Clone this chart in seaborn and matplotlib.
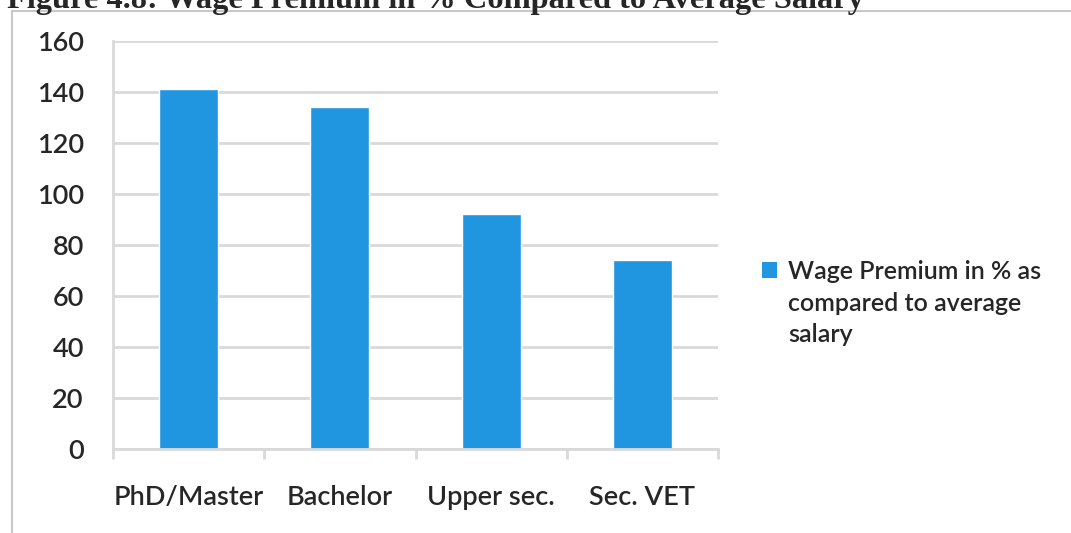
import matplotlib
matplotlib.use("Agg")
import matplotlib.pyplot as plt
import seaborn as sns
import pandas as pd
from matplotlib.patches import Rectangle, Patch
from matplotlib.legend_handler import HandlerPatch

# data
categories = ["PhD/Master", "Bachelor", "Upper sec.", "Sec. VET"]
premium = [141, 134, 92, 74]
series_name = "Wage Premium in % as\ncompared to average\nsalary"

df = pd.DataFrame({"level": categories, "premium": premium})

sns.set_style("white")
plt.rcParams['font.family'] = ['Lato', 'DejaVu Sans']
plt.rcParams['font.weight'] = 'semibold'

W, H = 1071, 533
fig = plt.figure(figsize=(W / 100, H / 100), dpi=100)
ax = fig.add_axes([113 / W, 1 - 449 / H, (718 - 113) / W, (449 - 41) / H])

bar_color = "#2196E0"
sns.barplot(data=df, x="level", y="premium", color=bar_color, width=0.39,
            saturation=1, ax=ax)

ax.set_ylim(0, 160)
ax.set_xlim(-0.5, 3.5)
ax.set_yticks(range(0, 161, 20))
ax.set_xlabel("")
ax.set_ylabel("")
grid_c = "#d9d9d9"
ax.yaxis.grid(True, color=grid_c, linewidth=2)
ax.set_axisbelow(True)
for s in ["right", "top"]:
    ax.spines[s].set_visible(False)
for s in ["left", "bottom"]:
    ax.spines[s].set_color(grid_c)
    ax.spines[s].set_linewidth(2)

# tick marks between categories, labels at category centres
ax.set_xticks([-0.5, 0.5, 1.5, 2.5, 3.5], minor=True)
ax.tick_params(axis="x", which="minor", length=7, width=2, color=grid_c, bottom=True)
ax.tick_params(axis="x", which="major", length=0, pad=26, labelsize=19.5)
ax.tick_params(axis="y", length=6, width=2, color=grid_c, pad=15, labelsize=19.5)


def shifted_patch(legend, orig_handle, xdescent, ydescent, width, height, fontsize):
    return Rectangle((-xdescent, -ydescent + 24), width, height)


handles = [Patch(facecolor=bar_color, edgecolor="none")]
leg = fig.legend(handles, [series_name], loc="upper left", bbox_to_anchor=(752 / W, 1 - 250 / H),
                 frameon=False, fontsize=18, handlelength=0.6, handleheight=0.6,
                 handletextpad=0.45, borderaxespad=0,
                 handler_map={Patch: HandlerPatch(patch_func=shifted_patch)})
leg.get_texts()[0].set_linespacing(1.45)

# outer frame of the chart (only top and left edges are visible)
fig.patches.append(Rectangle((12 / W, -0.1), 1.2, 1 - 11 / H + 0.1, transform=fig.transFigure,
                             fill=False, edgecolor="#c8c8c8", linewidth=1.5))

fig.text(7 / W, 1 - 8 / H, "Figure 4.8: Wage Premium in % Compared to Average Salary",
         family="Liberation Serif", weight="bold", fontsize=23.3, va="baseline", ha="left")

fig.savefig("out.png", dpi=100)
